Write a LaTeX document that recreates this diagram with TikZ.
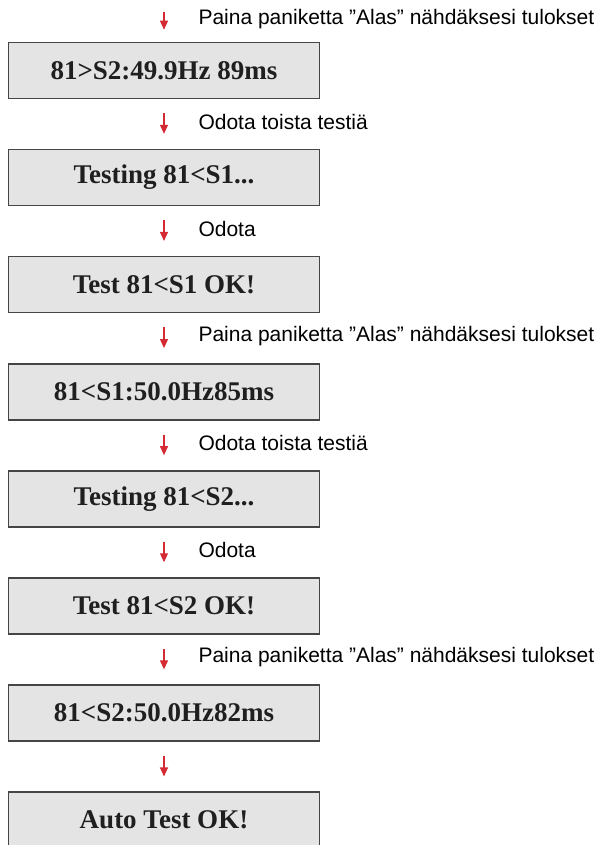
\documentclass[tikz,border=0pt]{standalone}
\usepackage{fontspec}
\setmainfont{Liberation Serif}
\newfontfamily\labelfont{Liberation Sans}
\usetikzlibrary{arrows.meta,positioning}
\definecolor{boxgray}{HTML}{E4E4E4}
\definecolor{boxline}{HTML}{454545}
\definecolor{arrowred}{HTML}{D42A34}

\begin{document}
\begin{tikzpicture}[
    block/.style={rectangle, draw=boxline, fill=boxgray, line width=1.5pt, minimum width=311pt, minimum height=56pt, inner sep=0pt, text=black!88, font=\fontsize{27}{30}\selectfont\bfseries},
    arrow/.style={-{Triangle[width=8pt,length=9pt]}, draw=arrowred, fill=arrowred, line width=1.1pt, shorten <=14pt, shorten >=15pt},
    note/.style={anchor=west, xshift=34pt, yshift=2pt, text=black, inner sep=0pt, font=\labelfont\fontsize{21}{24}\selectfont},
    node distance=49.6pt
]
    \useasboundingbox (0pt,0pt) rectangle (610pt,-845pt);
    \coordinate (start) at (164pt,0pt);
    \node[block] (res1) at (164pt,-70.5pt) {81>S2:49.9Hz 89ms};
    \node[block, below=of res1] (test1) {Testing 81<S1...};
    \node[block, below=of test1] (ok1) {Test 81<S1 OK!};
    \node[block, below=of ok1] (res2) {81<S1:50.0Hz85ms};
    \node[block, below=of res2] (test2) {Testing 81<S2...};
    \node[block, below=of test2] (ok2) {Test 81<S2 OK!};
    \node[block, below=of ok2] (res3) {81<S2:50.0Hz82ms};
    \node[block, below=of res3] (done) {Auto Test OK!};
    \draw[arrow, shorten <=12pt, shorten >=12pt] (start) -- node[note] {Paina paniketta ”Alas” nähdäksesi tulokset} (res1);
    \draw[arrow] (res1) -- node[note] {Odota toista testiä} (test1);
    \draw[arrow] (test1) -- node[note] {Odota} (ok1);
    \draw[arrow] (ok1) -- node[note] {Paina paniketta ”Alas” nähdäksesi tulokset} (res2);
    \draw[arrow] (res2) -- node[note] {Odota toista testiä} (test2);
    \draw[arrow] (test2) -- node[note] {Odota} (ok2);
    \draw[arrow] (ok2) -- node[note] {Paina paniketta ”Alas” nähdäksesi tulokset} (res3);
    \draw[arrow] (res3) -- (done);
\end{tikzpicture}
\end{document}
